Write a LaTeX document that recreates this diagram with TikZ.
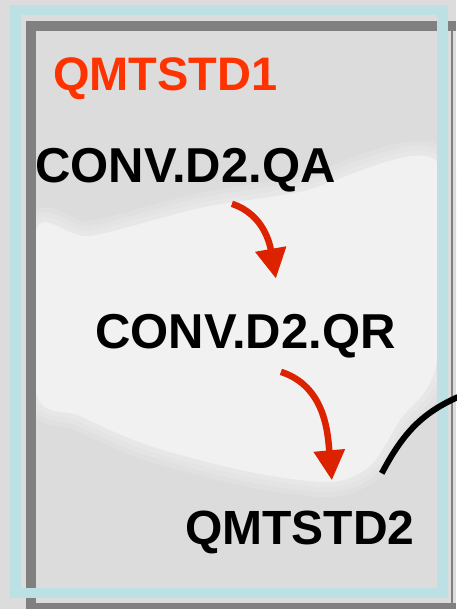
\documentclass[tikz,border=0pt]{standalone}
\usepackage{fontspec}
\setmainfont{Liberation Sans}
\usetikzlibrary{arrows.meta}

\definecolor{bgGray}{HTML}{DCDCDC}
\definecolor{haze}{HTML}{F1F1F1}
\definecolor{frameBlue}{HTML}{BCE0E3}
\definecolor{frameGray}{HTML}{808080}
\definecolor{titleRed}{HTML}{FF3300}
\definecolor{flowRed}{HTML}{DD2200}

\tikzset{
  dsname/.style={inner sep=0pt, anchor=base west, font=\fontsize{49}{58}\selectfont\bfseries},
  flow/.style={flowRed, line width=6.5pt, -{Triangle[length=30pt,width=30pt]}},
  wire/.style={black, line width=6pt},
}

\def\hazeshape{plot[smooth cycle] coordinates {(36,-230) (90,-236) (200,-208) (300,-192) (437,-162)
  (437,-360) (400,-420) (370,-466) (330,-482) (250,-472) (150,-446) (80,-416) (36,-392)}}

\begin{document}
\begin{tikzpicture}[x=1pt,y=1pt]
\useasboundingbox (0,0) rectangle (456,-609);
\fill[bgGray] (0,0) rectangle (456,-609);

% soft light band across the panel
\foreach \w/\o in {30/0.2,20/0.25,10/0.3}
  \draw[haze, line width=\w pt, opacity=\o, line join=round] \hazeshape;
\fill[haze] \hazeshape;

% frames
\fill[frameGray] (26,-21) rectangle (456,-31);
\fill[frameGray] (26,-21) rectangle (36,-609);
\fill[frameGray] (26,-603) rectangle (456,-609);
\fill[bgGray] (437,-31) rectangle (456,-603);
\fill[frameGray] (451,-31) rectangle (453,-609);
\fill[bgGray] (0,0) rectangle (26,-609);
\fill[bgGray] (0,0) rectangle (456,-21);
\draw[frameBlue, line width=10.5pt] (15.5,-10) rectangle (442.5,-593);

\node[dsname, text=titleRed, font=\fontsize{47}{56}\selectfont\bfseries] (title) at (53,-91) {QMTSTD1};
\node[dsname] (qa) at (35,-183) {CONV.D2.QA};
\node[dsname] (qr) at (95,-348) {CONV.D2.QR};
\node[dsname, font=\fontsize{48}{57}\selectfont\bfseries] (qd2) at (185,-544) {QMTSTD2};

\draw[flow] ([shift={(46.5,-11)}]qa.south) to[out=-18,in=100] ([shift={(30.5,35)}]qr.north);
\draw[flow] ([shift={(35.5,-14)}]qr.south) to[out=-18,in=95] ([shift={(32,30)}]qd2.north);

\coordinate (exit) at (458,-397);
\draw[wire] ([shift={(-33,37)}]qd2.north east) to[out=62,in=-156] (exit);
\end{tikzpicture}
\end{document}
